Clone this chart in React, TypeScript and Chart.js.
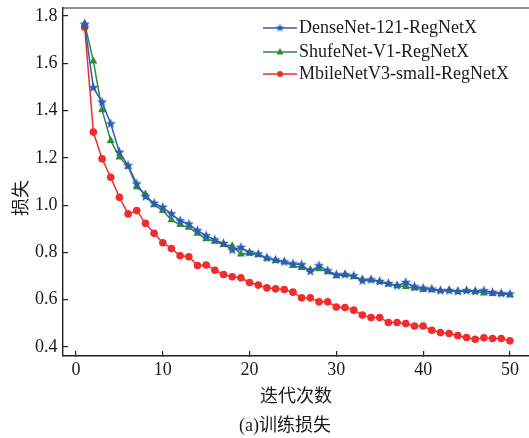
import React, { useEffect, useRef } from "react";
import { Chart, registerables } from "chart.js";

Chart.register(...registerables);

const epochs = [
  1, 2, 3, 4, 5, 6, 7, 8, 9, 10, 11, 12, 13, 14, 15, 16, 17, 18, 19, 20, 21, 22, 23, 24, 25,
  26, 27, 28, 29, 30, 31, 32, 33, 34, 35, 36, 37, 38, 39, 40, 41, 42, 43, 44, 45, 46, 47, 48, 49, 50,
];

const denseLoss = [
  1.765, 1.497, 1.436, 1.344, 1.224, 1.167, 1.09, 1.036, 1.008, 0.991,
  0.963, 0.934, 0.92, 0.892, 0.871, 0.853, 0.838, 0.81, 0.821, 0.8,
  0.793, 0.776, 0.768, 0.76, 0.752, 0.748, 0.72, 0.744, 0.723, 0.706,
  0.706, 0.701, 0.68, 0.684, 0.677, 0.669, 0.659, 0.673, 0.655, 0.649,
  0.645, 0.638, 0.638, 0.635, 0.638, 0.635, 0.638, 0.631, 0.626, 0.624,
];

const shuffleLoss = [
  1.768, 1.609, 1.403, 1.273, 1.203, 1.164, 1.077, 1.047, 1.001, 0.977,
  0.937, 0.917, 0.906, 0.88, 0.857, 0.847, 0.833, 0.828, 0.793, 0.796,
  0.79, 0.776, 0.765, 0.76, 0.744, 0.736, 0.727, 0.73, 0.718, 0.701,
  0.706, 0.697, 0.687, 0.684, 0.676, 0.666, 0.659, 0.655, 0.649, 0.642,
  0.641, 0.638, 0.641, 0.635, 0.638, 0.635, 0.628, 0.626, 0.626, 0.62,
];

const mobileLoss = [
  1.753, 1.309, 1.196, 1.118, 1.033, 0.963, 0.977, 0.923, 0.881, 0.841,
  0.817, 0.786, 0.782, 0.745, 0.747, 0.725, 0.707, 0.697, 0.693, 0.673,
  0.662, 0.65, 0.646, 0.643, 0.632, 0.608, 0.608, 0.591, 0.591, 0.569,
  0.567, 0.556, 0.535, 0.525, 0.525, 0.504, 0.504, 0.499, 0.489, 0.489,
  0.471, 0.461, 0.457, 0.448, 0.44, 0.433, 0.439, 0.436, 0.436, 0.426,
];

const seriesNames = ["DenseNet-121-RegNetX", "ShufeNet-V1-RegNetX", "MbileNetV3-small-RegNetX"];
const xTickValues = [0, 10, 20, 30, 40, 50];
const yTickValues = [0.4, 0.6, 0.8, 1.0, 1.2, 1.4, 1.6, 1.8];
const xTitle = "迭代次数";
const yTitle = "损失";
const caption = "(a)训练损失";

const FONT = '"Liberation Serif", "Noto Sans CJK SC", serif';
const TEXT = "#1a1a1a";
const AXIS = "#222222";
const BLUE = "#2b5cb6";
const GREEN = "#2f8a3c";
const RED = "#f02c2c";

function makeStar(size: number, outer: number, inner: number, color: string) {
  const c = document.createElement("canvas");
  c.width = size;
  c.height = size;
  const g = c.getContext("2d")!;
  g.fillStyle = color;
  g.beginPath();
  for (let i = 0; i < 10; i++) {
    const r = i % 2 === 0 ? outer : inner;
    const a = -Math.PI / 2 + (i * Math.PI) / 5;
    const px = size / 2 + r * Math.cos(a);
    const py = size / 2 + r * Math.sin(a);
    if (i === 0) g.moveTo(px, py);
    else g.lineTo(px, py);
  }
  g.closePath();
  g.fill();
  return c;
}

export default function App() {
  const ref = useRef<HTMLCanvasElement | null>(null);

  useEffect(() => {
    if (!ref.current) return;
    const star = makeStar(13, 5.4, 2.3, BLUE);
    const smallStar = makeStar(11, 4.4, 1.9, BLUE);

    const toPts = (arr: number[]) => epochs.map((e, i) => ({ x: e, y: arr[i] }));

    const extras = {
      id: "extras",
      afterDraw(chart: any) {
        const { ctx, chartArea } = chart;
        const { left, right, top, bottom } = chartArea;
        ctx.save();
        // top frame line
        ctx.strokeStyle = AXIS;
        ctx.lineWidth = 1.2;
        ctx.beginPath();
        ctx.moveTo(left, top);
        ctx.lineTo(chart.width, top);
        ctx.stroke();

        // y title
        ctx.fillStyle = TEXT;
        ctx.font = `18px ${FONT}`;
        ctx.textAlign = "center";
        ctx.textBaseline = "middle";
        ctx.save();
        ctx.translate(left - 41, (top + bottom) / 2 + 16);
        ctx.rotate(-Math.PI / 2);
        ctx.fillText(yTitle, 0, 0);
        ctx.restore();

        // caption
        ctx.fillText(caption, (left + right) / 2 - 11, chart.height - 11.5);

        // legend
        const colors = [BLUE, GREEN, RED];
        const rows = [top + 20, top + 44, top + 66];
        const x0 = right - 266;
        const x1 = right - 232;
        seriesNames.forEach((name, i) => {
          const y = rows[i];
          ctx.strokeStyle = colors[i];
          ctx.lineWidth = 1.5;
          ctx.beginPath();
          ctx.moveTo(x0, y);
          ctx.lineTo(x1, y);
          ctx.stroke();
          const cx = (x0 + x1) / 2;
          ctx.fillStyle = colors[i];
          if (i === 0) {
            ctx.drawImage(smallStar, cx - smallStar.width / 2, y - smallStar.height / 2);
          } else if (i === 1) {
            ctx.beginPath();
            ctx.moveTo(cx, y - 4);
            ctx.lineTo(cx + 3.6, y + 2.4);
            ctx.lineTo(cx - 3.6, y + 2.4);
            ctx.closePath();
            ctx.fill();
          } else {
            ctx.beginPath();
            ctx.arc(cx, y, 3, 0, Math.PI * 2);
            ctx.fill();
          }
          ctx.fillStyle = TEXT;
          ctx.textAlign = "left";
          ctx.textBaseline = "middle";
          ctx.font = `18px ${FONT}`;
          ctx.fillText(name, x1 + 2, y);
        });
        ctx.restore();
      },
    };

    const chart = new Chart(ref.current, {
      type: "line",
      data: {
        datasets: [
          {
            label: seriesNames[0],
            data: toPts(denseLoss),
            borderColor: BLUE,
            backgroundColor: BLUE,
            borderWidth: 1.5,
            pointStyle: star as any,
            pointRadius: 5,
            tension: 0,
          },
          {
            label: seriesNames[1],
            data: toPts(shuffleLoss),
            borderColor: GREEN,
            backgroundColor: GREEN,
            borderWidth: 1.5,
            pointStyle: "triangle",
            pointRadius: 4.6,
            pointBorderWidth: 0,
            tension: 0,
          },
          {
            label: seriesNames[2],
            data: toPts(mobileLoss),
            borderColor: RED,
            backgroundColor: RED,
            borderWidth: 1.5,
            pointStyle: "circle",
            pointRadius: 3.8,
            pointBorderWidth: 0,
            tension: 0,
          },
        ],
      },
      options: {
        responsive: false,
        animation: false,
        layout: { autoPadding: false, padding: { top: 8, left: 0, right: 0, bottom: 0 } },
        plugins: {
          legend: { display: false },
          tooltip: { enabled: false },
          title: { display: false },
        },
        scales: {
          x: {
            type: "linear",
            min: -1.5,
            max: 52.2,
            afterBuildTicks: (scale: any) => {
              scale.ticks = xTickValues.map((v) => ({ value: v }));
            },
            afterFit: (scale: any) => {
              scale.height = 82;
              scale.paddingLeft = 0;
              scale.paddingRight = 0;
            },
            grid: {
              display: true,
              drawOnChartArea: false,
              drawTicks: true,
              tickLength: -5,
              color: AXIS,
              lineWidth: 1.2,
            },
            border: { display: true, color: AXIS, width: 1.4 },
            ticks: {
              color: TEXT,
              font: { family: FONT, size: 18 },
              padding: 8,
              maxRotation: 0,
              autoSkip: false,
              callback: (v: any) => String(v),
            },
            title: {
              display: true,
              text: xTitle,
              color: TEXT,
              font: { family: FONT, size: 18 },
              padding: { top: 0, bottom: 30 },
            },
          },
          y: {
            type: "linear",
            min: 0.362,
            max: 1.834,
            afterBuildTicks: (scale: any) => {
              scale.ticks = yTickValues.map((v) => ({ value: v }));
            },
            afterFit: (scale: any) => {
              scale.width = 63;
              scale.paddingTop = 0;
              scale.paddingBottom = 0;
            },
            grid: {
              display: true,
              drawOnChartArea: false,
              drawTicks: true,
              tickLength: -5,
              color: AXIS,
              lineWidth: 1.2,
            },
            border: { display: true, color: AXIS, width: 1.4 },
            ticks: {
              color: TEXT,
              font: { family: FONT, size: 18 },
              padding: 10.5,
              autoSkip: false,
              callback: (v: any) => Number(v).toFixed(1),
            },
            title: { display: false },
          },
        },
      },
      plugins: [extras],
    });

    return () => chart.destroy();
  }, []);

  return (
    <div style={{ position: "fixed", left: 0, top: 0, width: 529, height: 438, background: "#fff" }}>
      <canvas ref={ref} width={529} height={438} style={{ display: "block", width: 529, height: 438 }} />
    </div>
  );
}
